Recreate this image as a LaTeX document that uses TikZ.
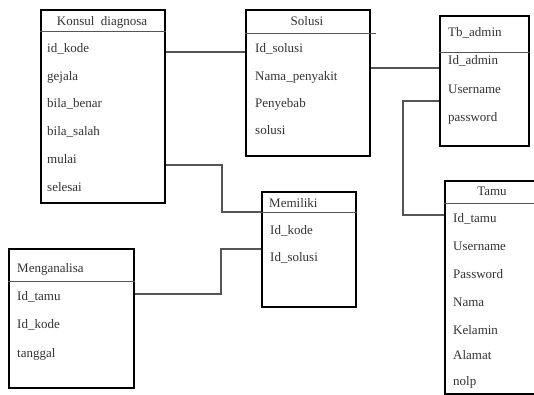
\documentclass[tikz,border=0pt]{standalone}
\usepackage{fontspec}
\setmainfont{Liberation Serif}
\usepackage{tikz}
\usetikzlibrary{calc}
\definecolor{linegray}{HTML}{555555}
\definecolor{txtgray}{HTML}{333333}
\tikzset{
  tbl/.style={draw=black, line width=1.6pt, rectangle, anchor=north west,
              inner sep=0pt, fill=white},
  divider/.style={draw=linegray, line width=0.9pt},
  conn/.style={draw=linegray, line width=1.2pt},
  field/.style={anchor=west, inner sep=0pt, text=txtgray,
                font=\fontsize{13}{15}\selectfont},
  ttl/.style={inner sep=0pt, text=txtgray, font=\fontsize{13}{15}\selectfont},
}
\begin{document}
\begin{tikzpicture}[x=1pt, y=-1pt]
  \useasboundingbox (0,0) rectangle (534,394);
  \clip (0,0) rectangle (534,394);

  %% tables
  \node[tbl, minimum width=124pt, minimum height=193pt] (konsul) at (40,9) {};
  \node[tbl, minimum width=124pt, minimum height=146pt] (solusi) at (245,9) {};
  \node[tbl, minimum width=89pt, minimum height=130pt] (admin) at (439,15) {};
  \node[tbl, minimum width=100pt, minimum height=213pt] (tamu) at (444,180) {};
  \node[tbl, minimum width=94pt, minimum height=115pt] (memiliki) at (261,191) {};
  \node[tbl, minimum width=125pt, minimum height=139pt] (menganalisa) at (8,248) {};

  %% header lines
  \draw[divider] ($(konsul.north west)+(0,22)$) -- ($(konsul.north east)+(0,22)$);
  \draw[divider] ($(solusi.north west)+(0,24)$) -- ($(solusi.north east)+(5,24)$);
  \draw[divider] ($(admin.north west)+(0,37)$) -- ($(admin.north east)+(0,37)$);
  \draw[divider] ($(tamu.north west)+(0,23)$) -- ($(tamu.north east)+(0,23)$);
  \draw[divider] ($(memiliki.north west)+(0,21)$) -- ($(memiliki.north east)+(0,21)$);
  \draw[divider] ($(menganalisa.north west)+(0,33)$) -- ($(menganalisa.north east)+(0,33)$);

  %% Konsul diagnosa
  \node[ttl] (kt) at (102,22) {Konsul\ \ diagnosa};
  \node[field] (k1) at (47,49) {id\_kode};
  \node[field] (k2) at (47,77) {gejala};
  \node[field] (k3) at (47,104) {bila\_benar};
  \node[field] (k4) at (47,132) {bila\_salah};
  \node[field] (k5) at (47,159) {mulai};
  \node[field] (k6) at (47,187) {selesai};

  %% Solusi
  \node[ttl] (st) at (307,21) {Solusi};
  \node[field] (s1) at (255,49) {Id\_solusi};
  \node[field] (s2) at (255,77) {Nama\_penyakit};
  \node[field] (s3) at (255,104) {Penyebab};
  \node[field] (s4) at (255,130) {solusi};

  %% Tb_admin
  \node[field] (at) at (448,33) {Tb\_admin};
  \node[field] (a1) at (448,61) {Id\_admin};
  \node[field] (a2) at (448,89) {Username};
  \node[field] (a3) at (448,118) {password};

  %% Tamu
  \node[ttl] (tt) at (492,191) {Tamu};
  \node[field] (t1) at (453,219) {Id\_tamu};
  \node[field] (t2) at (453,246) {Username};
  \node[field] (t3) at (453,274) {Password};
  \node[field] (t4) at (453,302) {Nama};
  \node[field] (t5) at (453,330) {Kelamin};
  \node[field] (t6) at (453,355) {Alamat};
  \node[field] (t7) at (453,382) {nolp};

  %% Memiliki
  \node[field] (mt) at (269,203) {Memiliki};
  \node[field] (m1) at (270,231) {Id\_kode};
  \node[field] (m2) at (270,258) {Id\_solusi};

  %% Menganalisa
  \node[field] (gt) at (17,269) {Menganalisa};
  \node[field] (g1) at (17,297) {Id\_tamu};
  \node[field] (g2) at (17,325) {Id\_kode};
  \node[field] (g3) at (17,354) {tanggal};

  %% relations
  \draw[conn] ($(konsul.north east)+(0,43)$) -- ($(solusi.north west)+(0,43)$);
  \draw[conn] ($(konsul.north east)+(0,156)$) -| ($(memiliki.north west)+(-39,21)$)
              -- ($(memiliki.north west)+(0,21)$);
  \draw[conn] ($(menganalisa.north east)+(0,46)$) -| ($(memiliki.north west)+(-40,58)$)
              -- ($(memiliki.north west)+(0,58)$);
  \draw[conn] ($(solusi.north east)+(0,59)$) -- ($(admin.north west)+(0,53)$);
  \draw[conn] ($(admin.north west)+(0,86)$) -| ($(tamu.north west)+(-41,35)$)
              -- ($(tamu.north west)+(0,35)$);

\end{tikzpicture}
\end{document}
